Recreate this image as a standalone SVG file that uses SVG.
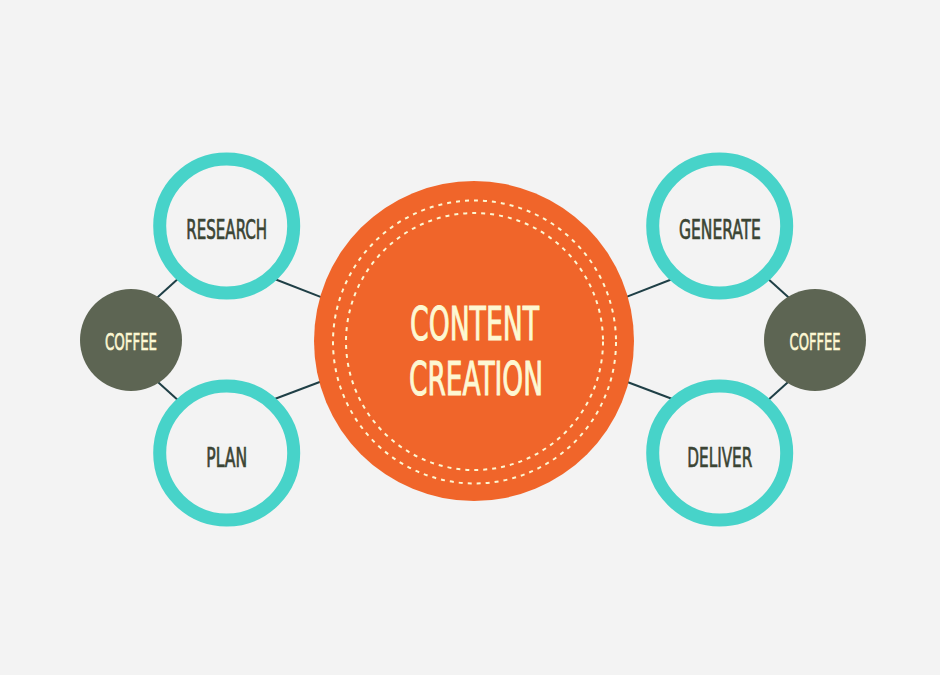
<svg xmlns="http://www.w3.org/2000/svg" width="940" height="675" viewBox="0 0 940 675">
<style>
.bg{fill:#f3f3f3}
.conn{stroke:#1f3f46;stroke-width:2;fill:none}
.ring{fill:#f3f3f3;stroke:#47d3c9;stroke-width:13}
.coffee{fill:#5d6553}
.hub{fill:#f0652a}
.dash{fill:none;stroke:#fdf7d2;stroke-width:2;stroke-dasharray:4 5}
.t{font-family:"Liberation Sans Narrow","DejaVu Sans Condensed","Liberation Sans",sans-serif;text-anchor:middle}
.dark{fill:#3b4434;stroke:#3b4434;stroke-width:0.7px;font-size:27px}
.light{fill:#fdf8d3;stroke:#fdf8d3;stroke-width:0.6px;font-size:23px}
.big{fill:#fdf8d3;stroke:#fdf8d3;stroke-width:1px;font-size:47px}
</style>
<rect class="bg" x="0" y="0" width="940" height="675"/>
<g id="connectors">
<line class="conn" x1="272" y1="278" x2="325" y2="298.6"/>
<line class="conn" x1="272" y1="400" x2="325" y2="380"/>
<line class="conn" x1="622" y1="298.6" x2="675" y2="278"/>
<line class="conn" x1="622" y1="380" x2="675" y2="400"/>
<line class="conn" x1="154" y1="300.5" x2="180" y2="277"/>
<line class="conn" x1="154" y1="378.5" x2="180" y2="402"/>
<line class="conn" x1="766" y1="277" x2="792" y2="300.5"/>
<line class="conn" x1="766" y1="402" x2="792" y2="378.5"/>
</g>
<g id="center">
<circle class="hub" cx="474" cy="341" r="160"/>
<circle class="dash" cx="474.5" cy="342" r="141.5"/>
<circle class="dash" cx="474.5" cy="341.5" r="128.5"/>
<text class="t big" x="474.5" y="339.5" textLength="129" lengthAdjust="spacingAndGlyphs">CONTENT</text>
<text class="t big" x="476" y="395" textLength="134" lengthAdjust="spacingAndGlyphs">CREATION</text>
</g>
<g id="research">
<circle class="ring" cx="226.7" cy="226" r="67"/>
<text class="t dark" x="226.7" y="239" textLength="81" lengthAdjust="spacingAndGlyphs">RESEARCH</text>
</g>
<g id="plan">
<circle class="ring" cx="226.7" cy="453" r="67"/>
<text class="t dark" x="226.7" y="466.7" textLength="41" lengthAdjust="spacingAndGlyphs">PLAN</text>
</g>
<g id="generate">
<circle class="ring" cx="719.7" cy="226" r="67"/>
<text class="t dark" x="719.9" y="239" textLength="82" lengthAdjust="spacingAndGlyphs">GENERATE</text>
</g>
<g id="deliver">
<circle class="ring" cx="719.7" cy="453" r="67"/>
<text class="t dark" x="719.8" y="466.7" textLength="65" lengthAdjust="spacingAndGlyphs">DELIVER</text>
</g>
<g id="coffee-left">
<circle class="coffee" cx="131" cy="340" r="51"/>
<text class="t light" x="131" y="350" textLength="52" lengthAdjust="spacingAndGlyphs">COFFEE</text>
</g>
<g id="coffee-right">
<circle class="coffee" cx="815" cy="340" r="51"/>
<text class="t light" x="815" y="350" textLength="51" lengthAdjust="spacingAndGlyphs">COFFEE</text>
</g>
</svg>
